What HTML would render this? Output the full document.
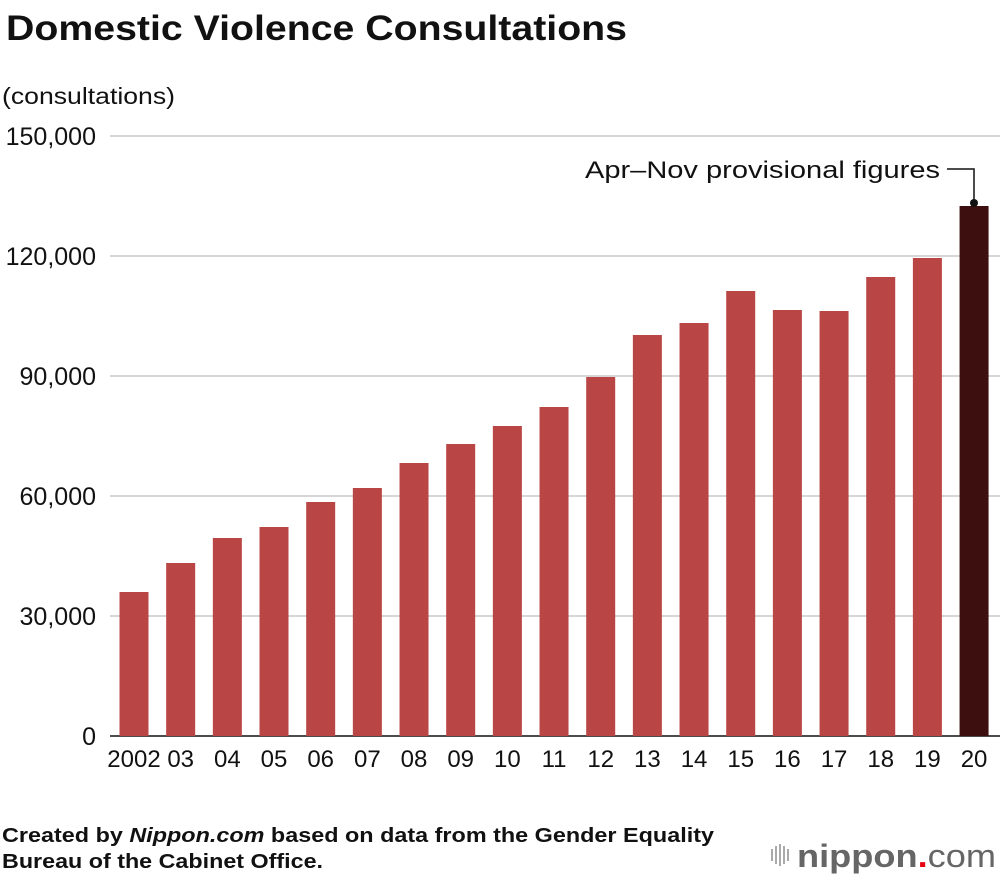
<!DOCTYPE html>
<html><head><meta charset="utf-8"><style>
body{margin:0;background:#fff;font-family:"Liberation Sans",sans-serif;}
svg{display:block}
</style></head><body>
<svg id="chart" width="1000" height="880">
<text x="6" y="40" font-size="35" font-weight="bold" fill="#111" textLength="621" lengthAdjust="spacingAndGlyphs">Domestic Violence Consultations</text>
<text x="2" y="104" font-size="23" fill="#111" textLength="173" lengthAdjust="spacingAndGlyphs">(consultations)</text>
<g id="grid"></g><g id="bars"></g><g id="xlabels"></g>
<text x="585" y="178" font-size="24" fill="#111" textLength="355" lengthAdjust="spacingAndGlyphs">Apr–Nov provisional figures</text>
<polyline points="947,169 974,169 974,203" fill="none" stroke="#111" stroke-width="1.5"/>
<circle cx="974" cy="203" r="4" fill="#111"/>
<text x="2" y="842" font-size="20" font-weight="bold" fill="#111" textLength="712" lengthAdjust="spacingAndGlyphs">Created by <tspan font-style="italic">Nippon.com</tspan> based on data from the Gender Equality</text>
<text x="2" y="868" font-size="20" font-weight="bold" fill="#111" textLength="321" lengthAdjust="spacingAndGlyphs">Bureau of the Cabinet Office.</text>
<g>
<g fill="#aaa"><rect x="771" y="849" width="2" height="12"/><rect x="775" y="846" width="2" height="18"/><rect x="779" y="844" width="2" height="22"/><rect x="783" y="846" width="2" height="18"/><rect x="787" y="849" width="2" height="12"/></g>
<text x="797" y="867" font-size="32" font-weight="bold" fill="#666" textLength="199" lengthAdjust="spacingAndGlyphs">nippon<tspan fill="#e60012">.</tspan><tspan font-weight="normal">com</tspan></text>
</g>
</svg>
<script>
const categories=["2002","03","04","05","06","07","08","09","10","11","12","13","14","15","16","17","18","19","20"];
const values=[36000,43250,49500,52250,58500,62000,68250,73000,77500,82250,89750,100250,103250,111250,106500,106250,114750,119500,132500];
const ticks=[0,30000,60000,90000,120000,150000];
const tickLabels=["0","30,000","60,000","90,000","120,000","150,000"];
const NS="http://www.w3.org/2000/svg";
const y=v=>736-v*0.004;
const xc=i=>134+i*46.67;
const grid=document.getElementById('grid'),bars=document.getElementById('bars'),xl=document.getElementById('xlabels');
ticks.forEach((t,i)=>{
 const l=document.createElementNS(NS,'line');
 l.setAttribute('x1',110);l.setAttribute('x2',1000);l.setAttribute('y1',y(t));l.setAttribute('y2',y(t));
 l.setAttribute('stroke',t===0?'#111':'#c8c8c8');l.setAttribute('stroke-width',1.5);
 
 
 grid.appendChild(l);
 const tx=document.createElementNS(NS,'text');
 tx.setAttribute('x',96);tx.setAttribute('y',y(t)+9);tx.setAttribute('text-anchor','end');tx.setAttribute('font-size','25');tx.setAttribute('fill','#111');
 tx.textContent=tickLabels[i];
 
 
 grid.appendChild(tx);
});
values.forEach((v,i)=>{
 const r=document.createElementNS(NS,'rect');
 r.setAttribute('x',xc(i)-14.5);r.setAttribute('width',29);r.setAttribute('y',y(v));r.setAttribute('height',736-y(v));
 r.setAttribute('fill',i===values.length-1?'#3d0f0f':'#b94545');
 
 
 bars.appendChild(r);
 const tx=document.createElementNS(NS,'text');
 tx.setAttribute('x',i===0?xc(i):xc(i));tx.setAttribute('y',767);tx.setAttribute('text-anchor','middle');tx.setAttribute('font-size','24');tx.setAttribute('fill','#111');
 tx.textContent=categories[i];
 
 
 xl.appendChild(tx);
});
</script>
</body></html>
